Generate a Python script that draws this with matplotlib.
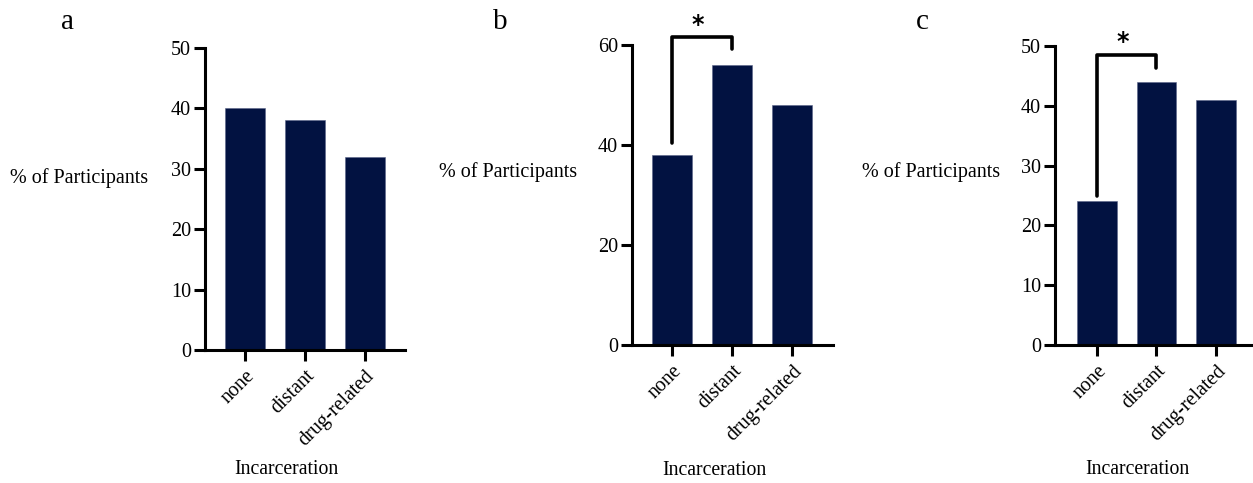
import numpy as np
from matplotlib import pyplot as plt

plt.rcParams['font.family'] = ['Liberation Serif', 'DejaVu Serif']

categories = ['none', 'distant', 'drug-related']
values_a = [40, 38, 32]
values_b = [38, 56, 48]
values_c = [24, 44, 41]

# significance brackets: (x_left, x_right, y_left, y_top, y_right, star_y)
bracket_b = (0, 1, 40.5, 61.6, 59.2, 64.0)
bracket_c = (0, 1, 25.0, 48.5, 46.3, 50.6)

bar_color = '#021241'

fig = plt.figure(figsize=(12.53, 4.83), dpi=100)

W, H = 1253, 483


def make_axes(left, right, y0, ytop):
    return fig.add_axes([left / W, (H - y0) / H, (right - left) / W, (y0 - ytop) / H])


def style_axes(ax, values, ylim, yticks, xlim, ylab_xy, xlab_xy):
    x = np.arange(len(categories))
    ax.bar(x, values, width=0.667, color=bar_color, edgecolor='#5a6488', linewidth=0.4)
    ax.set_ylim(*ylim)
    ax.set_xlim(*xlim)
    ax.set_yticks(yticks)
    ax.set_xticks(x)
    ax.set_xticklabels(categories, rotation=45, ha='right', rotation_mode='anchor')
    for s in ['top', 'right']:
        ax.spines[s].set_visible(False)
    for s in ['left', 'bottom']:
        ax.spines[s].set_linewidth(2.2)
    ax.tick_params(axis='both', length=8, width=2.2, labelsize=14.5, pad=2)
    ax.tick_params(axis='x', pad=4)
    ax.set_ylabel('% of Participants', rotation=0, ha='right', va='center', fontsize=14.5)
    ax.yaxis.set_label_coords(*ylab_xy)
    ax.set_xlabel('Incarceration', fontsize=14.2, va='center')
    ax.xaxis.set_label_coords(*xlab_xy)


def draw_bracket(ax, br):
    xl, xr, yl, yt, yr, ys = br
    ax.plot([xl, xl, xr, xr], [yl, yt, yt, yr], color='black', lw=2.6,
            solid_capstyle='round', solid_joinstyle='round', clip_on=False)
    ax.text(xl + 0.43, ys, '*', ha='center', va='center', fontsize=17,
            fontweight='bold', family='DejaVu Sans', clip_on=False)


ax_a = make_axes(205, 405, 350, 48)
style_axes(ax_a, values_a, (0, 50), [0, 10, 20, 30, 40, 50], (-0.667, 2.667),
           (-0.285, 0.57), (0.405, -0.397))

ax_b = make_axes(632, 833, 345, 45)
style_axes(ax_b, values_b, (0, 60), [0, 20, 40, 60], (-0.667, 2.68),
           (-0.274, 0.577), (0.408, -0.417))
draw_bracket(ax_b, bracket_b)

ax_c = make_axes(1055, 1252, 345, 46)
style_axes(ax_c, values_c, (0, 50), [0, 10, 20, 30, 40, 50], (-0.7, 2.6),
           (-0.279, 0.579), (0.42, -0.418))
draw_bracket(ax_c, bracket_c)

for lab, xp in zip(['a', 'b', 'c'], [68, 500, 922]):
    fig.text(xp / W, (H - 22) / H, lab, ha='center', va='center', fontsize=21)

plt.savefig('out.png', dpi=100)
